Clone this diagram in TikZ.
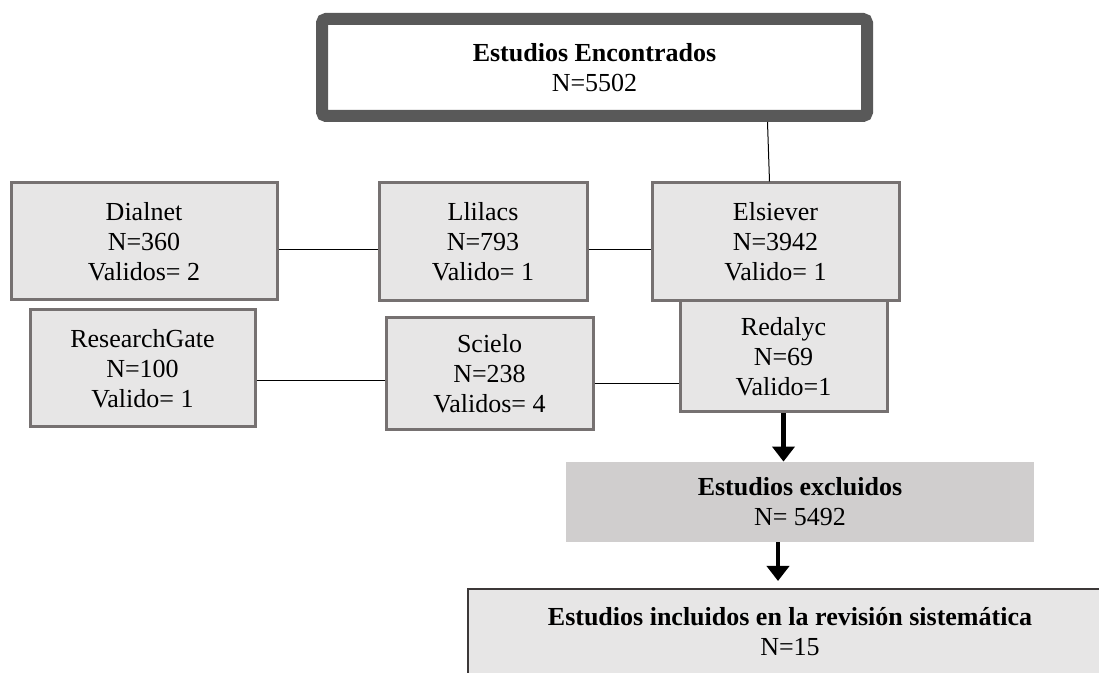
\documentclass[tikz,border=0pt]{standalone}
\usepackage{fontspec}
\setmainfont{Liberation Serif}
\usetikzlibrary{arrows.meta}
\definecolor{cajagris}{RGB}{231,230,230}
\definecolor{bordegris}{RGB}{118,113,113}
\definecolor{bordeosc}{RGB}{89,89,89}
\definecolor{excgris}{RGB}{208,206,206}
\definecolor{lineaosc}{RGB}{60,56,56}
\tikzset{
  texto/.style={align=center, inner sep=0pt, font=\fontsize{13}{15}\selectfont},
  base/.style={texto, fill=cajagris, draw=bordegris, line width=1.5pt},
  enlace/.style={line width=0.5pt},
  flecha/.style={-{Triangle[width=11pt,length=7.5pt]}, line width=2.2pt}
}
\begin{document}
\begin{tikzpicture}[x=0.5pt,y=-0.5pt]
\useasboundingbox (0,0) rectangle (1099,673);
\node[texto, draw=bordeosc, line width=6pt, rounded corners=2pt, fill=white, minimum width=272.5pt, minimum height=48.5pt] (enc) at (594.5,67.5) {\textbf{Estudios Encontrados}\\N=5502};
\node[base, minimum width=133pt, minimum height=58.5pt] (dial) at (144,241.5) {Dialnet\\N=360\\Validos= 2};
\node[base, minimum width=104pt, minimum height=59pt] (llil) at (483,242) {Llilacs\\N=793\\Valido= 1};
\node[base, minimum width=112.5pt, minimum height=58.5pt] (rg) at (142.5,368.5) {ResearchGate\\N=100\\Valido= 1};
\node[base, minimum width=103.5pt, minimum height=56pt] (sci) at (489.5,374) {Scielo\\N=238\\Validos= 4};
\node[base, minimum width=103.5pt, minimum height=55.5pt] (red) at (783.5,356.5) {Redalyc\\N=69\\Valido=1};
\node[base, minimum width=123.5pt, minimum height=59pt] (els) at (775.5,242) {Elsiever\\N=3942\\Valido= 1};
\node[texto, fill=excgris, minimum width=234pt, minimum height=40pt] (exc) at (800,502) {\textbf{Estudios excluidos}\\N= 5492};
\node[texto, fill=cajagris, draw=lineaosc, line width=1pt, minimum width=322pt, minimum height=43pt] (inc) at (790,632) {\textbf{Estudios incluidos en la revisión sistemática}\\N=15};

\draw[enlace] ([xshift=-4pt]enc.south -| els.north) -- ([xshift=-3pt]els.north);
\draw[enlace] ([yshift=-4pt]dial.east) -- ([yshift=-4pt]dial.east -| llil.west);
\draw[enlace] ([yshift=-4pt]llil.east) -- ([yshift=-4pt]llil.east -| els.west);
\draw[enlace] ([yshift=-6pt]rg.east) -- ([yshift=-6pt]rg.east -| sci.west);
\draw[enlace] ([yshift=-5pt]sci.east) -- ([yshift=-5pt]sci.east -| red.west);
\draw[flecha] (red.south) -- (red.south |- exc.north);
\draw[flecha, shorten >=3.5pt] ([xshift=-11pt]exc.south) -- ([xshift=-11pt]exc.south |- inc.north);
\end{tikzpicture}
\end{document}
